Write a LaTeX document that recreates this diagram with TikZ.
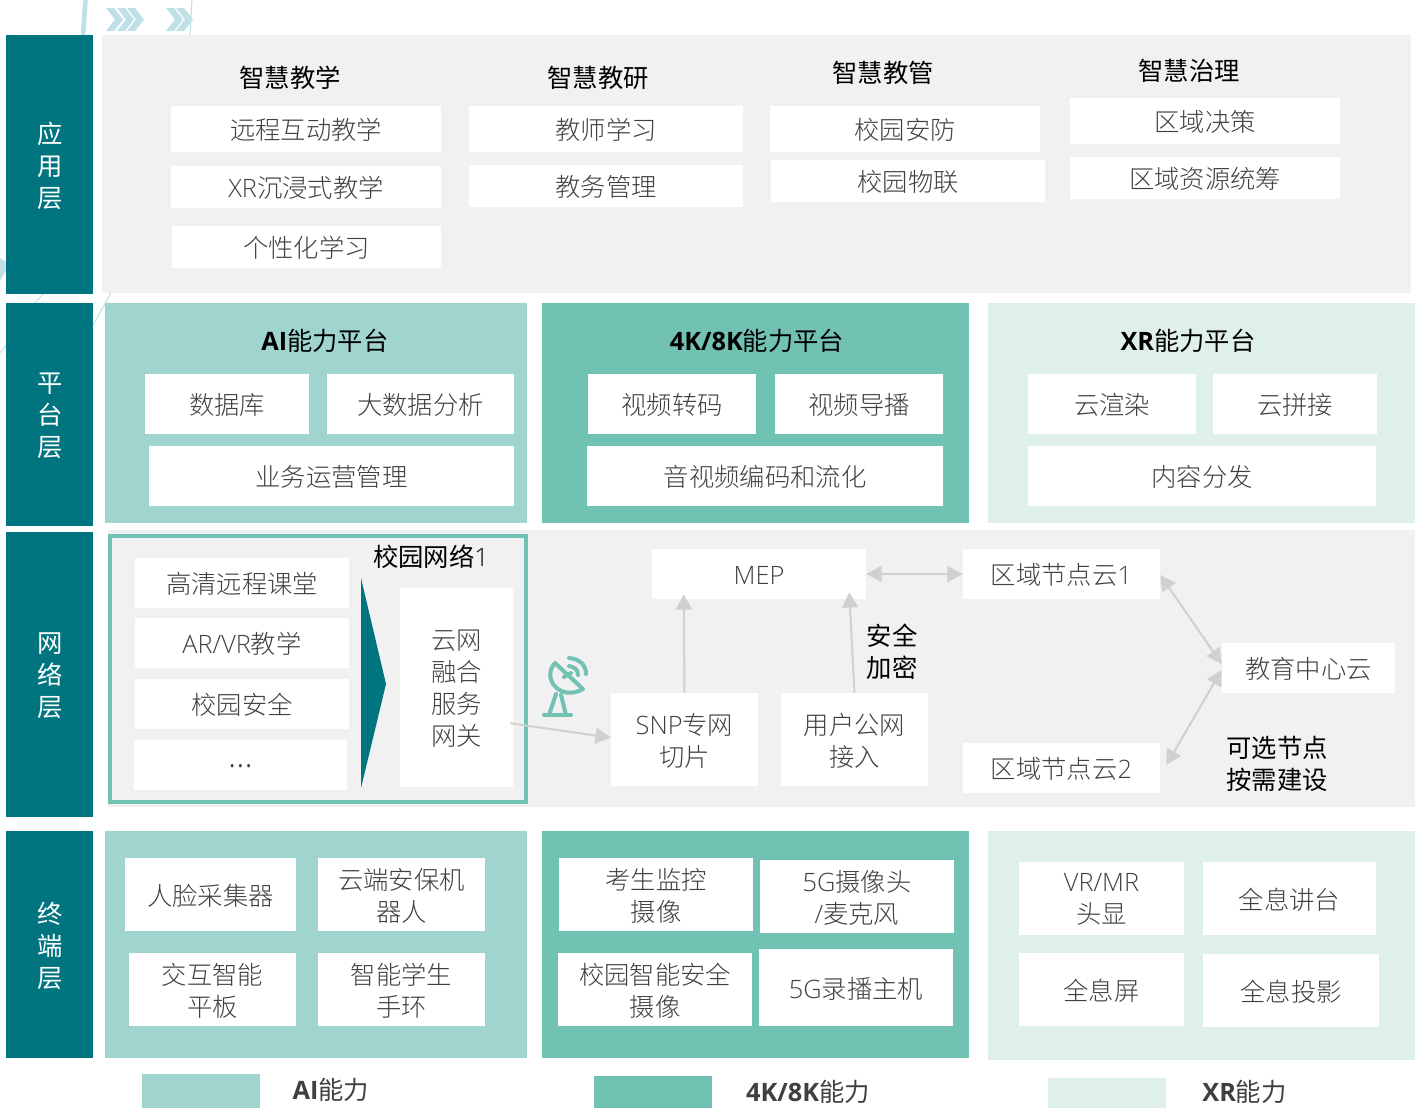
\documentclass[tikz,border=0pt]{standalone}
\usepackage{fontspec}
\usetikzlibrary{arrows.meta,calc}
\setmainfont{Noto Sans CJK SC Light}
\newfontfamily\hdf{Noto Sans CJK SC}
\newfontfamily\latf{Open Sans Light}
\newfontfamily\latb{Open Sans}[BoldFont={Open Sans Bold}]
\definecolor{tealD}{RGB}{0,117,127}
\definecolor{aiC}{RGB}{159,212,207}
\definecolor{fkC}{RGB}{114,194,179}
\definecolor{xrC}{RGB}{223,239,233}
\definecolor{panelC}{RGB}{241,241,241}
\definecolor{arrC}{RGB}{208,208,206}
\definecolor{decoC}{RGB}{191,224,230}
\definecolor{txtC}{RGB}{64,64,64}
\newcommand{\fs}{\fontsize{19}{24}\selectfont}
\newcommand{\la}[1]{{\latf #1}}
\newcommand{\bb}[1]{{\latb\bfseries #1}}
\tikzset{
  pic scale/.style={x=0.75pt,y=-0.75pt},
  whitebox/.style={fill=white,draw=none,inner sep=0pt},
  boxtext/.style={inner sep=0pt,align=center,text=txtC,font=\fs},
  sidebar/.style={fill=tealD,draw=none,inner sep=0pt},
  sidetext/.style={inner sep=0pt,align=center,text=white,font=\fs\hdf,xshift=0.75pt},
  panel/.style={draw=none,inner sep=0pt},
  heading/.style={inner sep=0pt,align=center,text=black,font=\fs\hdf},
  conn/.style={draw=arrC,line width=1.5pt,-{Triangle[length=11.5pt,width=12pt]}},
  bicon/.style={draw=arrC,line width=1.5pt,{Triangle[length=11.5pt,width=12pt]}-{Triangle[length=11.5pt,width=12pt]}},
  deco/.style={draw=decoC,line width=0.8pt},
  chev/.style={fill=decoC,draw=none},
  dish/.style={draw=fkC,line width=3pt,line cap=round,line join=round}
}
\newcommand{\bx}[6]{\bxx{whitebox}{boxtext}{1}{#1}{#2}{#3}{#4}{#5}{#6}}
\newcommand{\bxx}[9]{%
  \pgfmathsetmacro\bcx{(#5+#7)/2}\pgfmathsetmacro\bcy{(#6+#8)/2}%
  \pgfmathsetmacro\bw{(#7-#5)*0.75}\pgfmathsetmacro\bh{(#8-#6)*0.75}%
  \pgfmathsetmacro\tcy{\bcy+#3}%
  \node[#1,minimum width=\bw pt,minimum height=\bh pt] (#4) at (\bcx,\bcy) {};
  \node[#2] (#4t) at (\bcx,\tcy) {#9};}
\newcommand{\chevron}[1]{\fill[chev] (#1,8) -- ++(8,0) -- ++(9,11.5) -- ++(-9,11.5) -- ++(-8,0) -- ++(9,-11.5) -- cycle;}
\begin{document}
\begin{tikzpicture}[pic scale]
\useasboundingbox (0,0) rectangle (1422,1108);
\fill[white] (0,0) rectangle (1422,1108);
% background decoration
\draw[draw=decoC,line width=3.5pt] (85.5,0) -- (83,35);
\draw[deco] (192,0) -- (190,35);
\chevron{106}\chevron{117}\chevron{127}
\chevron{166}\chevron{176}
\draw[deco] (43,294) -- (35,303);
\draw[deco] (6,345) -- (0,353);
\draw[deco] (111,293) -- (93,325);
\fill[decoC] (0,258) -- (6,262) -- (6,270) -- (0,281) -- cycle;
% sidebars
\bxx{sidebar}{sidetext}{1}{appbar}{6}{35}{93}{294}{应\\用\\层}
\bxx{sidebar}{sidetext}{1}{platbar}{6}{303}{93}{526}{平\\台\\层}
\bxx{sidebar}{sidetext}{1}{netbar}{6}{532}{93}{817}{网\\络\\层}
\bxx{sidebar}{sidetext}{1}{termbar}{6}{831}{93}{1058}{终\\端\\层}
% application layer
\node[panel,fill=panelC,minimum width=981.75pt,minimum height=193.5pt] (apppanel) at (756.5,164) {};
\node[heading] (h1) at (290,78) {智慧教学};
\node[heading] (h2) at (598,78) {智慧教研};
\node[heading] (h3) at (883,72.5) {智慧教管};
\node[heading] (h4) at (1189,70.5) {智慧治理};
\bx{a1}{171}{106}{441}{152}{远程互动教学}
\bx{a2}{171}{166}{441}{208}{\la{XR}沉浸式教学}
\bx{a3}{172}{226}{441}{268}{个性化学习}
\bx{a4}{469}{106}{743}{152}{教师学习}
\bx{a5}{469}{165}{743}{207}{教务管理}
\bx{a6}{770}{106}{1040}{152}{校园安防}
\bx{a7}{771}{160}{1045}{202}{校园物联}
\bx{a8}{1070}{98}{1340}{144}{区域决策}
\bx{a9}{1070}{157}{1340}{199}{区域资源统筹}
% platform layer
\node[panel,fill=aiC,minimum width=316.5pt,minimum height=165pt] (pai) at (316,413) {};
\node[panel,fill=fkC,minimum width=320.25pt,minimum height=165pt] (pfk) at (755.5,413) {};
\node[panel,fill=xrC,minimum width=320.25pt,minimum height=165pt] (pxr) at (1201.5,413) {};
\node[heading] (t1) at (325,341) {\bb{AI}能力平台};
\node[heading] (t2) at (757,341) {\bb{4K/8K}能力平台};
\node[heading] (t3) at (1188,341) {\bb{XR}能力平台};
\bx{p1}{145}{374}{309}{434}{数据库}
\bx{p2}{327}{374}{514}{434}{大数据分析}
\bx{p3}{149}{446}{514}{506}{业务运营管理}
\bx{p4}{588}{374}{756}{434}{视频转码}
\bx{p5}{775}{374}{943}{434}{视频导播}
\bx{p6}{587}{446}{943}{506}{音视频编码和流化}
\bx{p7}{1028}{374}{1196}{434}{云渲染}
\bx{p8}{1213}{374}{1377}{434}{云拼接}
\bx{p9}{1028}{446}{1376}{506}{内容分发}
% network layer
\node[panel,fill=panelC,minimum width=980.25pt,minimum height=207.75pt] (npanel) at (761,668.5) {};
\draw[draw=fkC,line width=3.3pt] (110,536) rectangle (526,802);
\node[heading] (campus) at (431,557) {校园网络\la{1}};
\bx{n1}{135}{558}{349}{608}{高清远程课堂}
\bx{n2}{135}{618}{349}{668}{\la{AR/VR}教学}
\bx{n3}{135}{679}{349}{729}{校园安全}
\bx{n4}{134}{740}{347}{790}{{\fontsize{26}{24}\selectfont\la{...}}}
\fill[tealD] (361,578) -- (386,684) -- (361,788) -- cycle;
\bx{gw}{400}{588}{513}{787}{云网\\融合\\服务\\网关}
\bx{snp}{611}{693}{758}{786}{\la{SNP}专网\\切片}
\bx{user}{781}{693}{928}{786}{用户公网\\接入}
\bx{mep}{652}{549}{866}{599}{\la{MEP}}
\bx{c1}{963}{549}{1160}{599}{区域节点云\la{1}}
\bx{c2}{963}{743}{1160}{793}{区域节点云\la{2}}
\bx{edu}{1222}{643}{1395}{693}{教育中心云}
\node[heading] (sec) at (892,652) {安全\\加密};
\node[heading] (opt) at (1277,764) {可选节点\\按需建设};
\draw[conn] ($(gw.south east)+(-3,-64)$) -- ($(snp.north west)+(0,45)$);
\draw[conn] (snp.north) -- ($(mep.south west)+(32,-5)$);
\draw[conn] (user.north) -- ($(mep.south east)+(-17,-7)$);
\draw[bicon] (mep.east) -- (c1.west);
\draw[bicon] ($(c1.east)+(0,1)$) -- ($(edu.west)+(0,-4)$);
\draw[bicon] ($(c2.east)+(6,-3)$) -- ($(edu.west)+(0,2)$);
% dish icon
\draw[dish,fill=panelC] (555,663) .. controls (541,678) and (560,702) .. (583,689) -- cycle;
\draw[dish] (564,677) -- (571,673);
\draw[dish] (569,666) .. controls (575,667) and (578,670) .. (578,675);
\draw[dish] (569,658) .. controls (580,659) and (586,665) .. (586,674);
\draw[dish] (556,694) -- (549,715);
\draw[dish] (561,695) -- (566,715);
\draw[dish] (544,715) -- (571,715);
% terminal layer
\node[panel,fill=aiC,minimum width=316.5pt,minimum height=170.25pt] (tai) at (316,944.5) {};
\node[panel,fill=fkC,minimum width=320.25pt,minimum height=170.25pt] (tfk) at (755.5,944.5) {};
\node[panel,fill=xrC,minimum width=320.25pt,minimum height=171.75pt] (txr) at (1201.5,945.5) {};
\bx{e1}{125}{858}{296}{931}{人脸采集器}
\bx{e2}{318}{858}{485}{931}{云端安保机\\器人}
\bx{e3}{129}{953}{296}{1026}{交互智能\\平板}
\bx{e4}{318}{953}{485}{1026}{智能学生\\手环}
\bx{e5}{559}{858}{753}{931}{考生监控\\摄像}
\bx{e6}{760}{860}{954}{933}{\la{5G}摄像头\\\la{/}麦克风}
\bx{e7}{558}{953}{752}{1026}{校园智能安全\\摄像}
\bx{e8}{759}{949}{953}{1026}{\la{5G}录播主机}
\bx{e9}{1019}{862}{1184}{935}{\la{VR/MR}\\头显}
\bx{e10}{1203}{862}{1376}{935}{全息讲台}
\bx{e11}{1019}{953}{1184}{1026}{全息屏}
\bx{e12}{1203}{954}{1379}{1027}{全息投影}
% legend
\node[panel,fill=aiC,minimum width=88.5pt,minimum height=25.5pt] (l1) at (201,1091) {};
\node[panel,fill=fkC,minimum width=88.5pt,minimum height=24pt] (l2) at (653,1092) {};
\node[panel,fill=xrC,minimum width=88.5pt,minimum height=22.5pt] (l3) at (1107,1093) {};
\node[heading,text=txtC] (lt1) at (331,1090) {\bb{AI}能力};
\node[heading,text=txtC] (lt2) at (808,1092) {\bb{4K/8K}能力};
\node[heading,text=txtC] (lt3) at (1244.5,1092) {\bb{XR}能力};
\end{tikzpicture}
\end{document}
